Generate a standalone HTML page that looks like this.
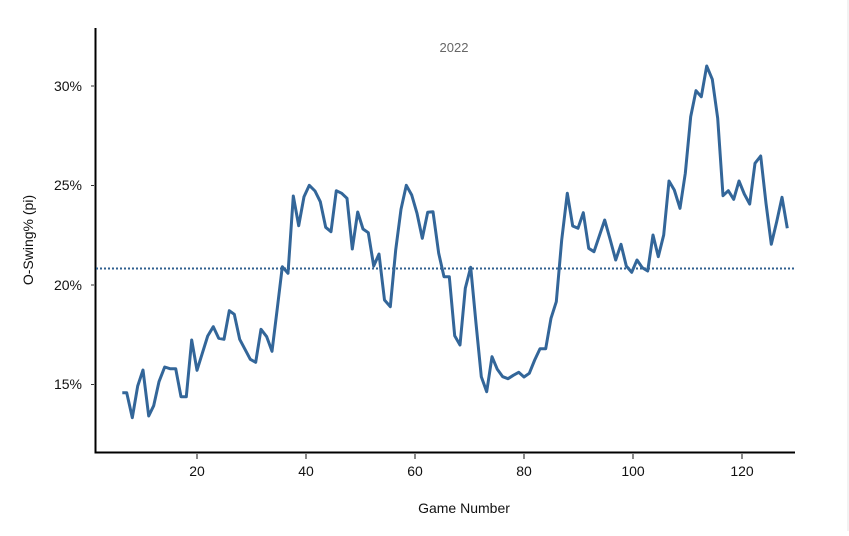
<!DOCTYPE html>
<html><head><meta charset="utf-8"><style>
html,body{margin:0;padding:0;background:#fff;}
text{font-family:"Liberation Sans",sans-serif;}
</style></head><body>
<svg width="849" height="531" viewBox="0 0 849 531" xmlns="http://www.w3.org/2000/svg">
<rect width="849" height="531" fill="#fff"/>
<line x1="848" y1="0" x2="848" y2="531" stroke="#e6e6e6" stroke-width="1"/>
<line x1="95.5" y1="28" x2="95.5" y2="453" stroke="#000" stroke-width="2"/>
<line x1="94.5" y1="452.5" x2="795" y2="452.5" stroke="#000" stroke-width="2"/>
<g stroke="#333" stroke-width="1">
<line x1="91" y1="86" x2="94" y2="86"/><line x1="91" y1="185.5" x2="94" y2="185.5"/>
<line x1="91" y1="285" x2="94" y2="285"/><line x1="91" y1="384.5" x2="94" y2="384.5"/>
</g>
<g stroke="#888" stroke-width="2">
<line x1="197" y1="454" x2="197" y2="459"/><line x1="306" y1="454" x2="306" y2="459"/>
<line x1="415" y1="454" x2="415" y2="459"/><line x1="524" y1="454" x2="524" y2="459"/>
<line x1="633" y1="454" x2="633" y2="459"/><line x1="742" y1="454" x2="742" y2="459"/>
</g>
<g font-size="14" fill="#111" text-anchor="end">
<text x="82" y="91">30%</text><text x="82" y="190">25%</text>
<text x="82" y="290">20%</text><text x="82" y="389">15%</text>
</g>
<g font-size="14" fill="#111" text-anchor="middle">
<text x="197" y="476">20</text><text x="306" y="476">40</text><text x="415" y="476">60</text>
<text x="524" y="476">80</text><text x="633" y="476">100</text><text x="742" y="476">120</text>
<text x="464" y="513">Game Number</text>
</g>
<text x="454" y="52" font-size="13" fill="#666" text-anchor="middle">2022</text>
<text transform="translate(33,240) rotate(-90)" font-size="14" fill="#111" text-anchor="middle">O-Swing% (pi)</text>
<line x1="96" y1="268.5" x2="795" y2="268.5" stroke="#2f5f8f" stroke-width="2" stroke-dasharray="2,2"/>
<polyline fill="none" stroke="#336699" stroke-width="3" stroke-linejoin="round" points="
122.3,392.7 126.7,392.7 132.3,417.7 137.7,386 143,370 148.7,416 153.7,405.7 159,381.7 164.7,367 170,368.7 175.7,368.7 181,396.7 186.3,396.7 191.7,340 197,370.3 202.3,353.3 207.7,336 213.3,326.7 218.7,338.3 224,339.3 229.3,310.7 234.3,314.3 239.7,339.3 245,349.3 250.3,359.3 255.7,362.3 261,329.3 266.7,336.7 272,351.3 277.3,308.3 282.3,266.7 288,273.3 293.3,196 298.7,225.7 304,196.7 309.3,185.3 315,191 320.3,201.7 325.7,227.3 331,231.7 336.3,190.7 341.7,193.3 347,198.3 352.3,249 357.7,212 363,229 368.3,232.7 373.7,266 379,254 384.5,300 390.3,306.7 395.7,250 401,209.3 406.3,185.3 411.7,195 417,213.3 422.3,238.3 427.7,212.3 433,211.7 438.7,253.3 444,276.7 449.3,276.7 454.7,335.7 460,345 465.3,288.3 470.7,267.3 476,323.3 481.3,376.7 486.7,391.7 492,356.7 497.3,369.3 502.7,376.7 508,378.7 513.3,375.3 518.7,372.3 524,377 529.3,373.3 534.7,360 540,348.7 545.7,348.7 551,318.3 556.3,301.7 561.7,240 567.3,193.3 572.7,226 578,228.3 583.3,212.7 588.7,248.3 594,251.7 599.3,236 604.7,220 610.3,240 615.7,260 621,244.3 626.3,266 631.7,272.3 637,260 642.3,267.7 647.7,271 653,235 658.3,256.7 663.7,235 669,181 674.3,190 680,208.3 685.3,173.3 690.7,116.7 696,90.7 701.3,96.7 706.7,66 712.3,79.3 717.7,118.3 723,195.7 728.3,190.7 733.7,199.3 739,181 744.3,194 749.7,204 755,163.3 760.7,156 766,203.3 771.3,244.3 776.7,221.7 782,197.3 787.3,228.3"/>
</svg>
</body></html>
